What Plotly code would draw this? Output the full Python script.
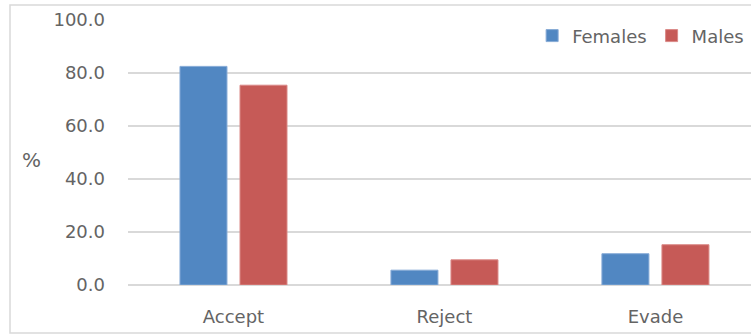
import plotly.graph_objects as go

categories = ["Accept", "Reject", "Evade"]
females = [82.5, 5.6, 11.8]
males = [75.4, 9.5, 15.2]
y_ticks = [0, 20, 40, 60, 80, 100]
y_tick_labels = ["0.0", "20.0", "40.0", "60.0", "80.0", "100.0"]

FONT = "DejaVu Sans"
TEXT = "#646464"
GRID = "#D9D9D9"

fig = go.Figure()
fig.add_trace(go.Bar(
    name="Females", x=categories, y=females,
    marker=dict(color="#5187C2", line=dict(color="#86AAD6", width=1)),
))
fig.add_trace(go.Bar(
    name="Males", x=categories, y=males,
    marker=dict(color="#C65A57", line=dict(color="#DA8987", width=1)),
))

# light outer frame around the whole chart area
fig.add_shape(type="rect", xref="paper", yref="paper",
              x0=-0.1894, x1=1.02, y0=-0.181, y1=1.0566,
              line=dict(color="#D9D9D9", width=1.5), layer="below")

fig.update_layout(
    width=751, height=335,
    margin=dict(l=128, r=0, t=20, b=50),
    paper_bgcolor="white", plot_bgcolor="white",
    barmode="group", bargap=0.431, bargroupgap=0.217,
    font=dict(family=FONT, size=18, color=TEXT),
    legend=dict(orientation="h", x=0.997, xanchor="right", y=0.94, yanchor="middle",
                font=dict(size=18, color=TEXT), itemwidth=30, bgcolor="rgba(0,0,0,0)"),
    xaxis=dict(range=[-0.5, 2.453], showgrid=False, showline=False, ticks="",
               ticklabelstandoff=19, tickfont=dict(size=18, color=TEXT)),
    yaxis=dict(range=[0, 100], tickvals=y_ticks, ticktext=y_tick_labels,
               showgrid=True, gridcolor=GRID, gridwidth=1.5,
               zeroline=True, zerolinecolor=GRID, zerolinewidth=1.5,
               ticks="", ticklabelstandoff=22, tickfont=dict(size=18, color=TEXT)),
    annotations=[dict(text="%", xref="paper", yref="paper", x=-0.155, y=0.47,
                      xanchor="center", yanchor="middle",
                      showarrow=False, font=dict(size=20, color=TEXT))],
    showlegend=True,
)

fig.write_html("out.html")
